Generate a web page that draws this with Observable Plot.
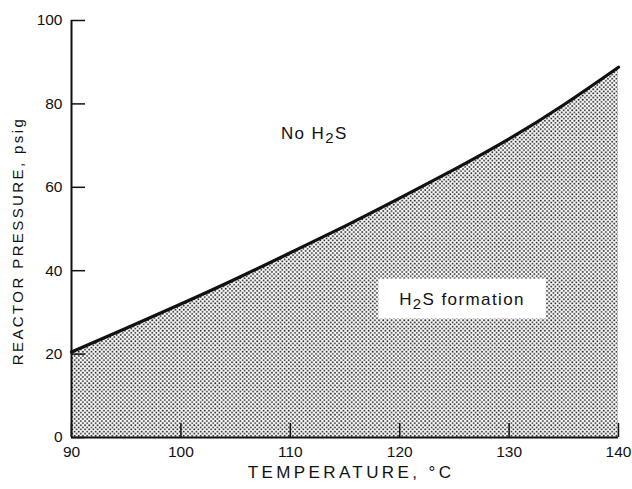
<!DOCTYPE html>
<html>
<head>
<meta charset="utf-8">
<script src="https://cdn.jsdelivr.net/npm/d3@7"></script>
<script src="https://cdn.jsdelivr.net/npm/@observablehq/plot@0.6"></script>
<style>
  html, body { margin: 0; padding: 0; background: #fff; }
  #chart svg { display: block; }
  .region { letter-spacing: 1.4px; }
  .xlab { letter-spacing: 3.4px; }
  .ylab { letter-spacing: 2.4px; }
</style>
</head>
<body>
<div id="chart"></div>
<script>
// Data
const temperature = [90, 95, 100, 105, 110, 115, 120, 125, 130, 135, 140];
const pressure    = [20.5, 26.2, 32.0, 38.0, 44.3, 50.7, 57.4, 64.3, 71.6, 79.8, 88.8];
const xTicks = [90, 100, 110, 120, 130, 140];
const yTicks = [0, 20, 40, 60, 80, 100];
const xLabel = "TEMPERATURE, °C";
const yLabel = "REACTOR PRESSURE, psig";
const regionLabels = ["No H₂S", "H₂S formation"];
const regionLabelX = [112.2, 125.7];
const regionLabelY = [72.8, 33.2];
const boxX = [118.1, 133.4];
const boxY = [28.4, 38.0];

const curve = temperature.map((t, i) => ({t, p: pressure[i]}));
const labels = regionLabels.map((s, i) => ({s, x: regionLabelX[i], y: regionLabelY[i]}));
const box = [{x1: boxX[0], x2: boxX[1], y1: boxY[0], y2: boxY[1]}];

const font = "Liberation Sans, Arial, sans-serif";

const defsMark = () => {
  const ns = "http://www.w3.org/2000/svg";
  const defs = document.createElementNS(ns, "defs");
  const pat = document.createElementNS(ns, "pattern");
  pat.setAttribute("id", "dots");
  pat.setAttribute("patternUnits", "userSpaceOnUse");
  pat.setAttribute("width", "4.2");
  pat.setAttribute("height", "4.2");
  const bg = document.createElementNS(ns, "rect");
  bg.setAttribute("width", "4.2"); bg.setAttribute("height", "4.2"); bg.setAttribute("fill", "#fff");
  pat.appendChild(bg);
  for (const [cx, cy] of [[1.05, 1.05], [3.15, 3.15]]) {
    const c = document.createElementNS(ns, "rect");
    c.setAttribute("x", cx - 0.8); c.setAttribute("y", cy - 0.8);
    c.setAttribute("width", 1.6); c.setAttribute("height", 1.6);
    c.setAttribute("fill", "#1a1a1a");
    pat.appendChild(c);
  }
  defs.appendChild(pat);
  return defs;
};

const plot = Plot.plot({
  width: 632,
  height: 489,
  marginLeft: 71,
  marginRight: 14,
  marginTop: 20,
  marginBottom: 52,
  style: {fontFamily: font, fontSize: "15px", color: "#111", background: "#fff"},
  x: {domain: [90, 140]},
  y: {domain: [0, 100]},
  marks: [
    defsMark,
    Plot.areaY(curve, {x: "t", y: "p", fill: "url(#dots)", curve: "natural"}),
    Plot.rect(box, {x1: "x1", x2: "x2", y1: "y1", y2: "y2", fill: "white"}),
    Plot.lineY(curve, {x: "t", y: "p", stroke: "#111", strokeWidth: 3.2, curve: "natural"}),
    Plot.axisX({ticks: xTicks, tickSize: 14, dy: -14, text: null, strokeWidth: 1.5, label: null}),
    Plot.axisX({ticks: xTicks, tickSize: 0, tickPadding: 8, fontSize: 15.5, label: null}),
    Plot.axisY({ticks: yTicks, tickSize: 14, dx: 14, text: null, strokeWidth: 1.5, label: null}),
    Plot.axisY({ticks: yTicks, tickSize: 0, tickPadding: 9, fontSize: 15.5, label: null}),
    Plot.ruleX([90], {stroke: "#111", strokeWidth: 2}),
    Plot.ruleY([0], {stroke: "#111", strokeWidth: 2}),
    Plot.text(labels, {x: "x", y: "y", text: "s", fontSize: 17, fill: "#111", className: "region"}),
    Plot.text([xLabel], {frameAnchor: "bottom", dx: 6, dy: 40, fontSize: 17, fill: "#111", className: "xlab"}),
    Plot.text([yLabel], {frameAnchor: "left", textAnchor: "middle", dx: -53, dy: 12, rotate: -90, fontSize: 15, fill: "#111", className: "ylab"})
  ]
});

// render the "2" of H2S as a lowered digit, like the reference lettering
plot.querySelectorAll("text").forEach(t => {
  if (t.textContent.includes("₂")) {
    const [a, b] = t.textContent.split("₂");
    const ns = "http://www.w3.org/2000/svg";
    t.textContent = "";
    const s1 = document.createElementNS(ns, "tspan"); s1.textContent = a;
    const s2 = document.createElementNS(ns, "tspan"); s2.textContent = "2"; s2.setAttribute("dy", "4"); s2.setAttribute("font-size", "15");
    const s3 = document.createElementNS(ns, "tspan"); s3.textContent = b; s3.setAttribute("dy", "-4");
    t.append(s1, s2, s3);
  }
});
document.getElementById("chart").appendChild(plot);
</script>
</body>
</html>
